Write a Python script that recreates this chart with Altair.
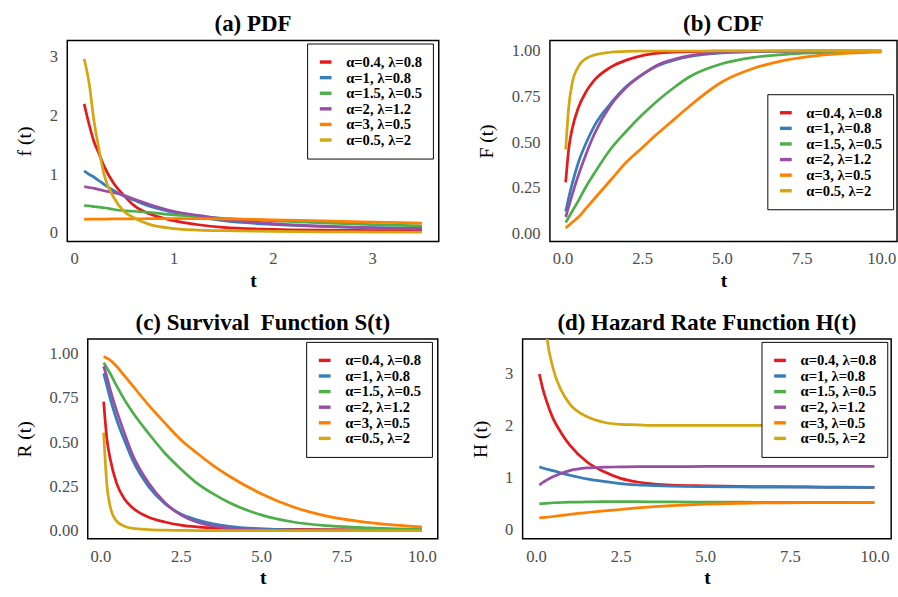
import altair as alt
import pandas as pd

labels = ["α=0.4, λ=0.8", "α=1, λ=0.8", "α=1.5, λ=0.5", "α=2, λ=1.2", "α=3, λ=0.5", "α=0.5, λ=2"]
colors = ["#E41A1C", "#377EB8", "#4DAF4A", "#984EA3", "#FF7F00", "#D4A60F"]

# ---- (a) PDF ----
t_pdf = [0.1, 0.15, 0.2, 0.25, 0.3, 0.4, 0.5, 0.6, 0.75, 1.0, 1.25, 1.5, 2.0, 2.5, 3.0, 3.5]
pdf_red = [2.2, 1.85, 1.55, 1.35, 1.14, 0.84, 0.64, 0.47, 0.33, 0.21, 0.14, 0.095, 0.062, 0.048, 0.041, 0.037]
pdf_blue = [1.06, 1.0, 0.95, 0.89, 0.83, 0.72, 0.63, 0.56, 0.46, 0.35, 0.27, 0.21, 0.145, 0.11, 0.09, 0.078]
pdf_green = [0.465, 0.46, 0.45, 0.44, 0.43, 0.40, 0.38, 0.37, 0.35, 0.31, 0.28, 0.25, 0.21, 0.17, 0.14, 0.12]
pdf_purple = [0.79, 0.775, 0.76, 0.74, 0.72, 0.685, 0.64, 0.58, 0.49, 0.37, 0.30, 0.235, 0.16, 0.115, 0.085, 0.066]
pdf_orange = [0.232, 0.234, 0.235, 0.236, 0.237, 0.238, 0.24, 0.241, 0.243, 0.245, 0.244, 0.24, 0.225, 0.205, 0.185, 0.166]
pdf_yellow = [2.97, 2.55, 1.9, 1.42, 1.0, 0.60, 0.37, 0.26, 0.15, 0.075, 0.05, 0.038, 0.028, 0.02, 0.015, 0.012]

# ---- common grid for (b), (c), (d) ----
t_long = [0.1, 0.2, 0.3, 0.5, 0.75, 1, 1.5, 2, 2.5, 3, 3.5, 4, 5, 6, 7, 8, 9, 10]

# (b) CDF
cdf_red = [0.28, 0.47, 0.57, 0.69, 0.78, 0.84, 0.91, 0.95, 0.975, 0.988, 0.994, 0.997, 0.999, 1.0, 1.0, 1.0, 1.0, 1.0]
cdf_blue = [0.12, 0.20, 0.27, 0.39, 0.50, 0.59, 0.71, 0.805, 0.87, 0.92, 0.95, 0.97, 0.99, 0.996, 0.998, 0.999, 1.0, 1.0]
cdf_green = [0.06, 0.09, 0.12, 0.18, 0.26, 0.33, 0.46, 0.56, 0.65, 0.73, 0.80, 0.86, 0.93, 0.965, 0.982, 0.99, 0.995, 0.997]
cdf_purple = [0.09, 0.15, 0.21, 0.32, 0.44, 0.545, 0.70, 0.80, 0.87, 0.925, 0.955, 0.975, 0.993, 0.998, 0.999, 1.0, 1.0, 1.0]
cdf_orange = [0.03, 0.045, 0.06, 0.09, 0.14, 0.19, 0.29, 0.39, 0.47, 0.55, 0.625, 0.70, 0.83, 0.905, 0.95, 0.975, 0.988, 0.995]
cdf_yellow = [0.46, 0.70, 0.82, 0.915, 0.96, 0.978, 0.993, 0.998, 0.999, 1.0, 1.0, 1.0, 1.0, 1.0, 1.0, 1.0, 1.0, 1.0]

# (c) Survival
sf_red = [0.73, 0.52, 0.41, 0.27, 0.18, 0.13, 0.077, 0.05, 0.032, 0.022, 0.017, 0.014, 0.01, 0.008, 0.007, 0.006, 0.005, 0.005]
sf_blue = [0.89, 0.82, 0.75, 0.63, 0.51, 0.40, 0.25, 0.155, 0.095, 0.062, 0.04, 0.026, 0.012, 0.006, 0.004, 0.003, 0.002, 0.002]
sf_green = [0.95, 0.92, 0.89, 0.82, 0.74, 0.67, 0.55, 0.44, 0.35, 0.27, 0.21, 0.16, 0.09, 0.05, 0.03, 0.02, 0.013, 0.01]
sf_purple = [0.93, 0.87, 0.80, 0.68, 0.55, 0.43, 0.27, 0.16, 0.09, 0.05, 0.028, 0.016, 0.005, 0.002, 0.001, 0.001, 0.001, 0.001]
sf_orange = [0.985, 0.975, 0.965, 0.93, 0.875, 0.82, 0.71, 0.61, 0.515, 0.44, 0.37, 0.31, 0.21, 0.135, 0.085, 0.055, 0.035, 0.022]
sf_yellow = [0.555, 0.26, 0.14, 0.055, 0.026, 0.014, 0.007, 0.004, 0.003, 0.002, 0.002, 0.002, 0.002, 0.002, 0.002, 0.002, 0.002, 0.002]

# (d) Hazard
hz_red = [3.0, 2.72, 2.5, 2.15, 1.86, 1.63, 1.31, 1.12, 0.99, 0.92, 0.88, 0.86, 0.845, 0.835, 0.83, 0.825, 0.82, 0.815]
hz_blue = [1.21, 1.19, 1.17, 1.14, 1.09, 1.05, 0.98, 0.93, 0.89, 0.865, 0.85, 0.84, 0.83, 0.825, 0.82, 0.82, 0.815, 0.815]
hz_green = [0.50, 0.505, 0.51, 0.52, 0.525, 0.53, 0.535, 0.54, 0.54, 0.54, 0.538, 0.535, 0.532, 0.53, 0.528, 0.526, 0.525, 0.524]
hz_purple = [0.86, 0.91, 0.95, 1.02, 1.09, 1.14, 1.19, 1.205, 1.21, 1.215, 1.215, 1.215, 1.22, 1.22, 1.22, 1.22, 1.22, 1.22]
hz_orange = [0.23, 0.235, 0.24, 0.255, 0.275, 0.295, 0.33, 0.365, 0.39, 0.42, 0.445, 0.465, 0.495, 0.51, 0.518, 0.521, 0.523, 0.524]
hz_yellow = [6.5, 4.7, 3.85, 3.12, 2.68, 2.42, 2.18, 2.07, 2.03, 2.02, 2.01, 2.01, 2.01, 2.01, 2.01, 2.0, 2.0, 2.0]

SERIF = "Liberation Serif"


def long_df(t, series):
    rows = []
    for lab, vals in zip(labels, series):
        for tt, v in zip(t, vals):
            rows.append({"t": tt, "v": v, "s": lab})
    return pd.DataFrame(rows)


def panel(df, title, xdom, xvals, xfmt, ydom, yvals, yfmt, ytitle, w, h, legx, legy):
    return alt.Chart(df, title=alt.TitleParams(
        text=title, font=SERIF, fontSize=23.5, fontWeight="bold", color="black",
        anchor="middle", offset=5)).mark_line(strokeWidth=2.8, clip=True, interpolate="monotone").encode(
        x=alt.X("t:Q", scale=alt.Scale(domain=xdom, nice=False, zero=False),
                axis=alt.Axis(title="t", values=xvals, format=xfmt, grid=False, ticks=False, tickSize=0,
                              domain=False, labelPadding=10, titlePadding=4, labelFont=SERIF,
                              labelFontSize=17, labelColor="#4D4D4D", titleFont=SERIF, titleFontSize=20,
                              titleFontWeight="bold", titleColor="black", labelFlush=False)),
        y=alt.Y("v:Q", scale=alt.Scale(domain=ydom, nice=False, zero=False),
                axis=alt.Axis(title=ytitle, values=yvals, format=yfmt, grid=False, ticks=False, tickSize=0,
                              domain=False, labelPadding=10, titlePadding=15, labelFont=SERIF,
                              labelFontSize=17, labelColor="#4D4D4D", titleFont=SERIF, titleFontSize=20,
                              titleFontWeight="normal", titleColor="black", labelFlush=False)),
        color=alt.Color("s:N", title=None, sort=labels,
                        scale=alt.Scale(domain=labels, range=colors),
                        legend=alt.Legend(orient="none", legendX=legx, legendY=legy,
                                          strokeColor="black", fillColor="white", padding=11,
                                          symbolType="stroke", symbolSize=144, symbolStrokeWidth=3.5,
                                          labelFont=SERIF, labelFontSize=15, labelFontWeight="bold",
                                          labelColor="black", labelOffset=13, rowPadding=-0.7)),
    ).properties(width=w, height=h)


def spacer(w):
    return alt.Chart(pd.DataFrame({"z": [0]})).mark_point(opacity=0, size=1).encode(
        x=alt.value(0), y=alt.value(0)
    ).properties(width=w, height=10, view=alt.ViewBackground(stroke="transparent"))


def indep(c):
    return c.resolve_scale(color="independent").resolve_legend(color="independent")


pa = panel(long_df(t_pdf, [pdf_red, pdf_blue, pdf_green, pdf_purple, pdf_orange, pdf_yellow]),
           "(a) PDF", [-0.07, 3.67], [0, 1, 2, 3], "d", [-0.145, 3.28], [0, 1, 2, 3], "d",
           "f (t)", 381, 206, 246, 3)
pb = panel(long_df(t_long, [cdf_red, cdf_blue, cdf_green, cdf_purple, cdf_orange, cdf_yellow]),
           "(b) CDF", [-0.395, 10.495], [0, 2.5, 5, 7.5, 10], ".1f", [-0.044, 1.057],
           [0, 0.25, 0.5, 0.75, 1], ".2f", "F (t)", 356, 206, 223, 55)
pc = panel(long_df(t_long, [sf_red, sf_blue, sf_green, sf_purple, sf_orange, sf_yellow]),
           "(c) Survival\u00a0 Function S(t)", [-0.395, 10.495], [0, 2.5, 5, 7.5, 10], ".1f",
           [-0.045, 1.084], [0, 0.25, 0.5, 0.75, 1], ".2f", "R (t)", 359, 205, 224, 3)
pd_ = panel(long_df(t_long, [hz_red, hz_blue, hz_green, hz_purple, hz_orange, hz_yellow]),
            "(d) Hazard Rate Function H(t)", [-0.395, 10.495], [0, 2.5, 5, 7.5, 10], ".1f",
            [-0.175, 3.675], [0, 1, 2, 3], "d", "H (t)", 378, 205, 245, 3)

inner1 = indep(alt.hconcat(spacer(11), pa, spacing=0))
row1 = indep(alt.hconcat(inner1, pb, spacing=37))
inner2 = indep(alt.hconcat(spacer(11), pc, spacing=0))
row2 = indep(alt.hconcat(inner2, pd_, spacing=31))

chart = indep(alt.vconcat(row1, row2, spacing=19)).properties(
    padding={"left": 0, "top": 4, "right": 0, "bottom": 0}, background="white"
).configure_view(stroke="black", strokeWidth=1.5)

chart.save("out.html", embed_options={"renderer": "svg", "actions": False})
